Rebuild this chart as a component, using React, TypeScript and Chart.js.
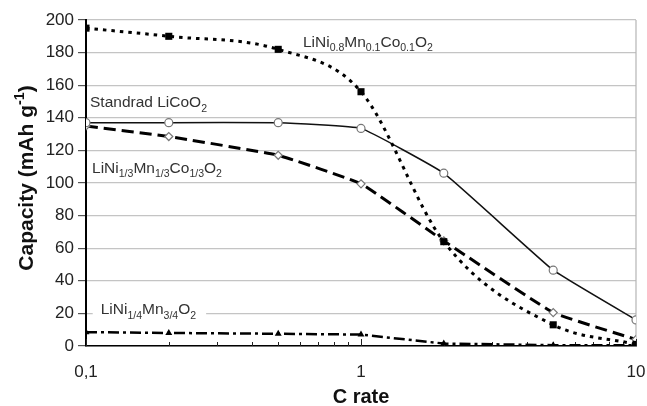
import React, { useEffect, useRef } from "react";
import { Chart, registerables } from "chart.js";

Chart.register(...registerables);

// ---- data ----
const cRates = [0.1, 0.2, 0.5, 1, 2, 5, 10];
const nmc811 = [195, 190, 182, 156, 64, 13, 1];
const licoo2 = [137, 137, 137, 133.5, 106, 46.5, 16];
const nmc111 = [135, 128.5, 117, 99.5, 64.5, 20.5, 4];
const lnmo = [8.5, 8, 7.5, 7, 1.5, 0.5, 0.5];

const xMajorTicks = [0.1, 1, 10];
const xTickText = ["0,1", "1", "10"];
const xMinorTicks = [0.2, 0.3, 0.4, 0.5, 0.6, 0.7, 0.8, 0.9, 2, 3, 4, 5, 6, 7, 8, 9];

const yTitle: [string, number][] = [["Capacity (mAh g", 0], ["-1", 2], [")", 0]];
const xTitle = "C rate";

// annotation labels: rich text segments (0 normal, 1 subscript, 2 superscript), anchor in data coords
const seriesLabels: { segs: [string, number][]; x: number; y: number; box?: boolean }[] = [
  { segs: [["LiNi", 0], ["0.8", 1], ["Mn", 0], ["0.1", 1], ["Co", 0], ["0.1", 1], ["O", 0], ["2", 1]], x: 0.615, y: 183.7 },
  { segs: [["Standrad LiCoO", 0], ["2", 1]], x: 0.1034, y: 146.6 },
  { segs: [["LiNi", 0], ["1/3", 1], ["Mn", 0], ["1/3", 1], ["Co", 0], ["1/3", 1], ["O", 0], ["2", 1]], x: 0.1052, y: 106.4 },
  { segs: [["LiNi", 0], ["1/4", 1], ["Mn", 0], ["3/4", 1], ["O", 0], ["2", 1]], x: 0.1131, y: 19.4, box: true },
];

const FONT = '"Liberation Sans", Arial, Helvetica, sans-serif';

function richWidth(ctx: CanvasRenderingContext2D, segs: [string, number][], size: number, bold: boolean) {
  let w = 0;
  for (const [t, k] of segs) {
    const fs = k ? size * 0.68 : size;
    ctx.font = `${bold ? "bold " : ""}${fs}px ${FONT}`;
    w += ctx.measureText(t).width;
  }
  return w;
}

function drawRich(ctx: CanvasRenderingContext2D, segs: [string, number][], x: number, y: number, size: number, bold = false) {
  let cx = x;
  for (const [t, k] of segs) {
    const fs = k ? size * 0.68 : size;
    ctx.font = `${bold ? "bold " : ""}${fs}px ${FONT}`;
    const dy = k === 1 ? size * 0.3 : k === 2 ? -size * 0.42 : 0;
    ctx.fillText(t, cx, y + dy);
    cx += ctx.measureText(t).width;
  }
}

const decorPlugin = {
  id: "decor",
  beforeDatasetsDraw(chart: any) {
    const { ctx, chartArea } = chart;
    const xs = chart.scales.x;
    const ys = chart.scales.y;
    ctx.save();
    // right border
    ctx.strokeStyle = "#b5b5b5";
    ctx.lineWidth = 1.2;
    ctx.beginPath();
    ctx.moveTo(chartArea.right, chartArea.top);
    ctx.lineTo(chartArea.right, chartArea.bottom);
    ctx.stroke();
    // inward x ticks
    ctx.strokeStyle = "#222";
    ctx.lineWidth = 1;
    const drawTick = (v: number, len: number) => {
      const px = Math.round(xs.getPixelForValue(v)) + 0.5;
      ctx.beginPath();
      ctx.moveTo(px, chartArea.bottom);
      ctx.lineTo(px, chartArea.bottom - len);
      ctx.stroke();
    };
    xMajorTicks.forEach((v) => drawTick(v, 7));
    xMinorTicks.forEach((v) => drawTick(v, 4));
    // labels
    ctx.fillStyle = "#333";
    ctx.textBaseline = "alphabetic";
    ctx.textAlign = "left";
    const size = 15.5;
    for (const lab of seriesLabels) {
      const px = xs.getPixelForValue(lab.x);
      const py = ys.getPixelForValue(lab.y);
      if (lab.box) {
        const w = richWidth(ctx, lab.segs, size, false);
        ctx.fillStyle = "#fff";
        ctx.fillRect(px - 8, py - 16, w + 18, 24);
        ctx.fillStyle = "#333";
      }
      drawRich(ctx, lab.segs, px, py, size, false);
    }
    ctx.restore();
  },
  afterDraw(chart: any) {
    const { ctx, chartArea } = chart;
    ctx.save();
    ctx.fillStyle = "#111";
    // x title
    ctx.font = `bold 20px ${FONT}`;
    ctx.textAlign = "center";
    ctx.textBaseline = "alphabetic";
    ctx.fillText(xTitle, (chartArea.left + chartArea.right) / 2, 403);
    // y title
    const size = 21;
    const w = richWidth(ctx, yTitle, size, true);
    ctx.translate(33, 178);
    ctx.rotate(-Math.PI / 2);
    ctx.textAlign = "left";
    drawRich(ctx, yTitle, -w / 2, 0, size, true);
    ctx.restore();
  },
};

export default function App() {
  const ref = useRef<HTMLCanvasElement>(null);
  useEffect(() => {
    const canvas = ref.current!;
    const mk = (arr: number[]) => cRates.map((x, i) => ({ x, y: arr[i] }));
    const chart = new Chart(canvas, {
      type: "line",
      data: {
        datasets: [
          {
            label: "LiNi0.8Mn0.1Co0.1O2",
            data: mk(nmc811),
            borderColor: "#000",
            borderWidth: 3,
            borderDash: [3.5, 5],
            cubicInterpolationMode: "monotone",
            pointStyle: "rect",
            pointRadius: 5,
            pointBackgroundColor: "#000",
            pointBorderColor: "#000",
            pointBorderWidth: 0,
            fill: false,
          },
          {
            label: "Standrad LiCoO2",
            data: mk(licoo2),
            borderColor: "#111",
            borderWidth: 1.5,
            tension: 0.1,
            pointStyle: "circle",
            pointRadius: 4,
            pointBackgroundColor: "#fff",
            pointBorderColor: "#777",
            pointBorderWidth: 1.2,
            fill: false,
          },
          {
            label: "LiNi1/3Mn1/3Co1/3O2",
            data: mk(nmc111),
            borderColor: "#000",
            borderWidth: 3,
            borderDash: [12, 6],
            tension: 0.1,
            pointStyle: "rectRot",
            pointRadius: 4,
            pointBackgroundColor: "#fff",
            pointBorderColor: "#777",
            pointBorderWidth: 1.2,
            fill: false,
          },
          {
            label: "LiNi1/4Mn3/4O2",
            data: mk(lnmo),
            borderColor: "#000",
            borderWidth: 2.5,
            borderDash: [11, 4, 3, 4],
            tension: 0,
            pointStyle: "triangle",
            pointRadius: 4,
            pointBackgroundColor: "#000",
            pointBorderColor: "#000",
            pointBorderWidth: 0,
            fill: false,
          },
        ],
      },
      options: {
        animation: false,
        responsive: false,
        maintainAspectRatio: false,
        layout: { padding: { left: 0, right: 11, top: 20, bottom: 0 } },
        plugins: { legend: { display: false }, tooltip: { enabled: false } },
        scales: {
          x: {
            type: "logarithmic",
            min: 0.1,
            max: 10,
            afterBuildTicks: (s: any) => {
              s.ticks = xMajorTicks.map((v) => ({ value: v }));
            },
            afterFit: (s: any) => {
              s.height = 60;
              s.paddingLeft = 0;
              s.paddingRight = 0;
            },
            ticks: {
              autoSkip: false,
              maxRotation: 0,
              padding: 16,
              color: "#222",
              font: { family: FONT, size: 17 },
              callback: (v: any) => {
                const i = xMajorTicks.indexOf(Number(v));
                return i >= 0 ? xTickText[i] : "";
              },
            },
            grid: { display: false, drawTicks: false },
            border: { display: true, color: "#000", width: 1.5 },
          },
          y: {
            min: 0,
            max: 200,
            afterFit: (s: any) => {
              s.width = 86;
              s.paddingTop = 0;
              s.paddingBottom = 0;
            },
            ticks: {
              stepSize: 20,
              padding: 4,
              color: "#222",
              font: { family: FONT, size: 17 },
            },
            grid: { color: "#c4c4c4", lineWidth: 1.2, tickLength: 8, tickColor: "#555" },
            border: { display: true, color: "#000", width: 2 },
          },
        },
      },
      plugins: [decorPlugin],
    } as any);
    return () => chart.destroy();
  }, []);
  return (
    <div style={{ position: "fixed", left: 0, top: 0, width: 647, height: 406, background: "#fff" }}>
      <canvas ref={ref} width={647} height={406} style={{ display: "block" }} />
    </div>
  );
}
